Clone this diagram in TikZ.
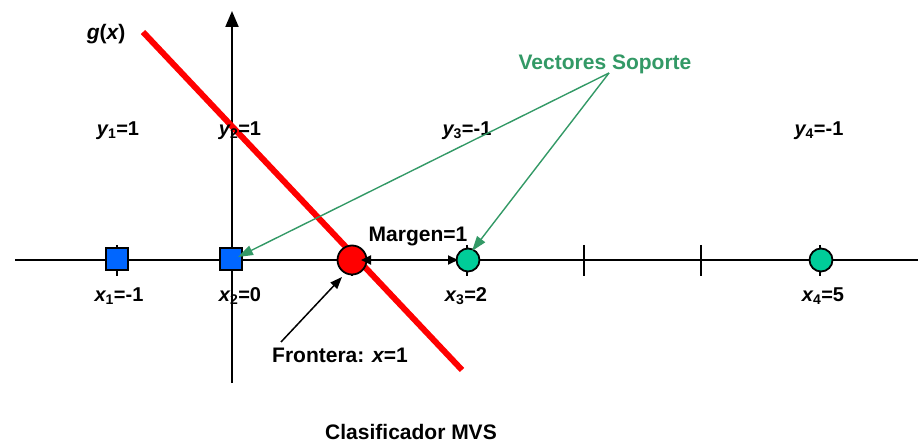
\documentclass[tikz,border=0pt]{standalone}
\usepackage{fontspec}
\setmainfont{Liberation Sans}
\usetikzlibrary{arrows.meta}
\definecolor{sqblue}{HTML}{0066FF}
\definecolor{circgreen}{HTML}{00CC99}
\definecolor{labgreen}{HTML}{339966}
\tikzset{
  lbl/.style={font=\fontsize{21}{24}\selectfont\bfseries, inner sep=0pt},
  slbl/.style={font=\fontsize{20}{23}\selectfont\bfseries, inner sep=0pt},
  glbl/.style={lbl, text=labgreen},
  axisline/.style={line width=2pt},
  tickmark/.style={line width=2pt},
  sqpt/.style={draw=black, line width=1.8pt, fill=sqblue, minimum size=22pt, inner sep=0pt},
  gpt/.style={circle, draw=black, line width=1.8pt, fill=circgreen, minimum size=23pt, inner sep=0pt},
  rpt/.style={circle, draw=black, line width=1.8pt, fill=red, minimum size=29pt, inner sep=0pt},
  garrow/.style={draw=labgreen, line width=1.4pt, -{Triangle[length=15pt,width=10pt]}, labgreen},
}
\newcommand{\vx}[2]{{\itshape #1}\textsubscript{#2}}
\begin{document}
\begin{tikzpicture}[x=1pt,y=-1pt]
\useasboundingbox (0,0) rectangle (918,443);
% axes
\coordinate (hl) at (15,260);
\coordinate (hr) at (918,260);
\coordinate (vb) at (232,383);
\coordinate (vt) at (232,11);
\draw[axisline] (hl) -- (hr);
\draw[axisline, -{Triangle[length=16pt,width=13pt]}] (vb) -- (vt);
% ticks
\foreach \t in {117,352,467,584,701,820} {
  \draw[tickmark] (\t,245) -- (\t,276);
}
% red boundary line
\coordinate (rl1) at (143,32);
\coordinate (rl2) at (462,370);
\draw[red, line width=6pt] (rl1) -- (rl2);
% points
\node[sqpt] (p1) at (117,259) {};
\node[sqpt] (p2) at (231,259) {};
\node[rpt] (pf) at (352,260) {};
\node[gpt] (p3) at (468,260) {};
\node[gpt] (p4) at (821,260) {};
% margin arrow
\draw[line width=2pt, {Triangle[length=10pt,width=9pt]}-{Triangle[length=10pt,width=9pt]}] (361,260) -- (458,260);
\node[lbl] (marg) at (418,237) {Margen=1};
% labels
\node[lbl] (gx) at (106,34) {{\itshape g}({\itshape x})};
\node[slbl] (y1) at (118,131) {\vx{y}{1}=1};
\node[slbl] (y2) at (240,131) {\vx{y}{2}=1};
\node[slbl] (y3) at (467,131) {\vx{y}{3}=-1};
\node[slbl] (y4) at (819,131) {\vx{y}{4}=-1};
\node[slbl] (x1) at (119,296) {\vx{x}{1}=-1};
\node[slbl] (x2) at (240,296) {\vx{x}{2}=0};
\node[slbl] (x3) at (466,296) {\vx{x}{3}=2};
\node[slbl] (x4) at (823,296) {\vx{x}{4}=5};
\node[lbl] (front) at (340,355) {Frontera: {\itshape x}=1};
\node[lbl] (title) at (411,432) {Clasificador MVS};
\node[glbl] (vs) at (605,64) {Vectores Soporte};
% arrows
\coordinate (vsp) at (609,73);
\draw[garrow] (vsp) -- (238,257);
\draw[garrow] (vsp) -- (472,251);
\draw[line width=1.5pt, -{Triangle[length=12pt,width=9pt]}] (281,342) -- (342,277);
\end{tikzpicture}
\end{document}
